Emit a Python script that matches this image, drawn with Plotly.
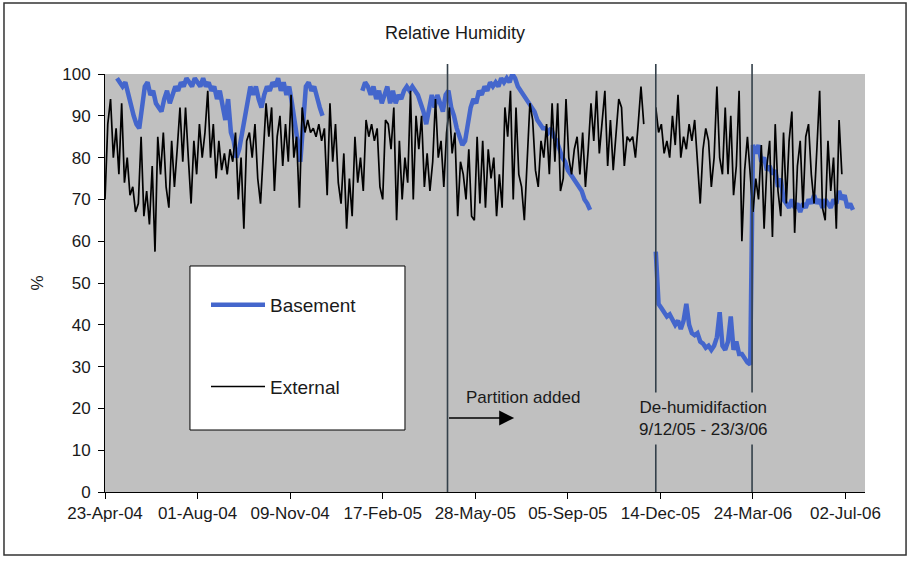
import pandas as pd
import plotly.graph_objects as go

# ---------------- data ----------------
step_days = 3
ext_start_1 = "2004-04-23"
ext_vals_1 = [70,88,94,80,87,76,93,74,80,71,
              73,67,69,85,66,72,64,78,57.5,85,
              76,86,73,68,84,73,82,92,79,92,
              80,69,84,76,88,80,86,96,80,88,
              75,84,77,81,76,82,79,86,70,80,
              63,84,86,80,88,75,69,80,93,85,
              92,72,85,90,78,88,79,95,80,85,
              68,92,86,89,86,87,85,88,84,87,
              71,93,79,88,74,69,81,63,75,66,
              85,74,80,72,89,85,88,84,87,73,
              70,89,88,82,92,65,84,70,80,74,
              96,70,90,82,90,73,81,72,79,94,
              80,84,73,86,92,81,86,66,79,76,
              70,82,66,65,85,69,84,68,82,75,
              80,66,76,68,92,85,96,70,92,76,
              73,65,80,93,89,77,73,84,80,88,
              76,93,79,93,72,75,94,80,76,82,
              85,76,86,73,82,93,84,96,81,88,
              96,78,89,77,85,94,92,78,85,84,
              85,80,88,97,88]
ext_start_2 = "2005-12-09"
ext_vals_2 = [92,86,88,81,84,80,90,83,95,80,
              85,82,88,84,89,80,69,82,87,84,
              73,80,97,80,76,92,76,90,71,78,
              96,60,77,85,76,67,75,70,83,63,
              78,84,61,88,72,66,86,69,84,91,
              62,78,84,68,85,88,76,69,82,96,
              68,65,84,72,80,63,89,76]

base_start_1 = "2004-05-06"
base_vals_1 = [99,98,97,98,95,92,90,88,87,92,
               97,98,95,96,93,92,91,94,96,93,
               95,97,96,98,97,99,98,97,99,98,
               97,99,97,98,96,97,94,96,92,89,
               94,86,84,80,82,86,90,93,97,95,
               97,94,92,95,97,96,98,97,99,96,
               98,95,97,93,89,84,79,88,97,98,
               96,97,94,92,90]
base_start_2 = "2005-01-26"
base_vals_2 = [96,98,97,95,97,94,96,93,95,97,
               93,96,93,95,94,96,97,96,97,96,
               95,93,91,88,92,95,92,95,93,91,
               95,96,92,90,87,85,83,84,88,92,
               94,93,96,95,97,96,98,97,98,97,
               99,98,99,98,100,99,97,96,95,94,
               93,92,91,89,88,87,87,86,87,85,
               84,82,80,79,77,76,75,74,73,72,
               70,69,67.5]
base_start_3 = "2005-12-09"
base_vals_3 = [57.5,45,44,43,42,42.5,41,40,41,39,
               41,45,40,38,37.5,38,36,35.5,34.5,35,
               34,35,37,43,35,34,36,42,34,36,
               33,33,32,31,30.5,83,81,83,79,80,
               77,78,76,77,73,75,70,69,68,70,
               68,69,67,69,68,70,69,71,69,70,
               68,70,69,68,70,69,72,70,71,68,
               69,67.5]

x_tick_labels = ["23-Apr-04", "01-Aug-04", "09-Nov-04", "17-Feb-05", "28-May-05",
                 "05-Sep-05", "14-Dec-05", "24-Mar-06", "02-Jul-06"]
y_ticks = [0, 10, 20, 30, 40, 50, 60, 70, 80, 90, 100]
event_dates = ["2005-04-28", "2005-12-09", "2006-03-23"]
x_range = ["2004-04-23", "2006-07-23"]


def join_segments(segs):
    xs, ys = [], []
    for start, vals in segs:
        if xs:
            xs.append(None)
            ys.append(None)
        xs.extend(list(pd.date_range(start, periods=len(vals), freq=f"{step_days}D")))
        ys.extend(vals)
    return xs, ys


bx, by = join_segments([(base_start_1, base_vals_1), (base_start_2, base_vals_2),
                        (base_start_3, base_vals_3)])
ex, ey = join_segments([(ext_start_1, ext_vals_1), (ext_start_2, ext_vals_2)])

FONT = "Liberation Sans, Arial, sans-serif"
TXT = "#1a1a1a"

fig = go.Figure()
fig.add_trace(go.Scatter(x=bx, y=by, mode="lines", name="Basement",
                         line=dict(color="#4466CC", width=4.5),
                         legendgroup="b", connectgaps=False))
fig.add_trace(go.Scatter(x=ex, y=ey, mode="lines", name="External",
                         line=dict(color="#000000", width=1.7),
                         legendgroup="e", connectgaps=False))

shapes = []
# outer frame
shapes.append(dict(type="rect", xref="paper", yref="paper",
                   x0=-0.1329, x1=1.0540, y0=-0.1507, y1=1.1699,
                   line=dict(color="#333333", width=1.5), fillcolor="rgba(0,0,0,0)",
                   layer="below"))
# event lines
for d in event_dates:
    shapes.append(dict(type="line", xref="x", yref="paper", x0=d, x1=d,
                       y0=0, y1=1.024, line=dict(color="#34404a", width=1.6),
                       layer="above"))
# legend box
shapes.append(dict(type="rect", xref="paper", yref="paper",
                   x0=0.1118, x1=0.3947, y0=0.1483, y1=0.5407,
                   line=dict(color="#000000", width=1), fillcolor="#FFFFFF",
                   layer="above"))

annotations = [
    dict(x="2005-07-19", y=22.5, xref="x", yref="y", text="Partition added",
         showarrow=False, font=dict(family=FONT, size=17, color=TXT)),
    dict(x="2005-07-09", y=17.7, xref="x", yref="y", ax="2005-04-28", ay=17.7,
         axref="x", ayref="y", text="", showarrow=True, arrowhead=2,
         arrowsize=2, arrowwidth=1.5, arrowcolor="#000000"),
    dict(x="2006-01-29", y=17.7, xref="x", yref="y",
         text="De-humidifaction<br>9/12/05 - 23/3/06", showarrow=False,
         bgcolor="#C0C0C0", borderpad=5,
         font=dict(family=FONT, size=17, color=TXT)),
]

fig.update_layout(
    width=910, height=562,
    margin=dict(l=105, r=45, t=74, b=70),
    paper_bgcolor="#FFFFFF", plot_bgcolor="#C0C0C0",
    font=dict(family=FONT, size=17, color=TXT),
    title=dict(text="Relative Humidity", x=0.5, xref="container", xanchor="center",
               y=1 - 33 / 562, yref="container", yanchor="middle",
               font=dict(family=FONT, size=18, color=TXT)),
    shapes=shapes, annotations=annotations,
    showlegend=True,
    legend=dict(x=0.1329, y=0.493, xanchor="left", yanchor="top",
                bgcolor="rgba(0,0,0,0)", borderwidth=0,
                font=dict(family=FONT, size=19, color=TXT),
                tracegroupgap=54, itemwidth=54, traceorder="grouped"),
)

fig.update_xaxes(type="date", range=x_range,
                 tickvals=[pd.to_datetime(t, format="%d-%b-%y") for t in x_tick_labels],
                 ticktext=x_tick_labels, ticks="outside", ticklen=6, tickcolor="#000000",
                 showline=True, linecolor="#000000", linewidth=1, showgrid=False,
                 zeroline=False, tickfont=dict(family=FONT, size=17, color=TXT))
fig.update_yaxes(range=[0, 100], tickvals=y_ticks, ticks="outside", ticklen=6,
                 tickcolor="#000000", showline=True, linecolor="#000000", linewidth=1,
                 showgrid=False, zeroline=False, ticklabelstandoff=4,
                 title=dict(text="%", standoff=14, font=dict(family=FONT, size=17, color=TXT)),
                 tickfont=dict(family=FONT, size=17, color=TXT))

fig.write_html("out.html")
